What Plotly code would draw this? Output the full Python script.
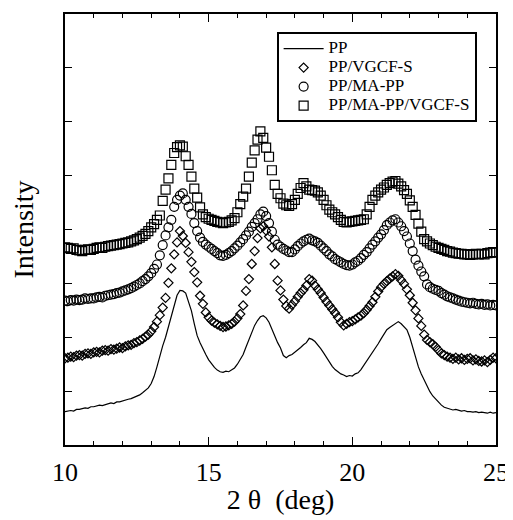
import plotly.graph_objects as go

# values sampled every 0.1 deg from 10.0 to 25.0
pp = [0.62,0.63,0.64,0.63,0.66,0.66,0.67,0.69,0.68,0.71,
      0.71,0.72,0.74,0.73,0.75,0.76,0.78,0.77,0.80,0.80,
      0.82,0.83,0.85,0.86,0.88,0.90,0.93,0.97,1.01,1.06,
      1.14,1.27,1.45,1.67,1.84,2.00,2.20,2.42,2.62,2.78,
      2.87,2.86,2.82,2.67,2.49,2.25,2.03,1.90,1.78,1.68,
      1.58,1.50,1.44,1.39,1.36,1.35,1.37,1.36,1.40,1.43,
      1.50,1.59,1.68,1.82,1.96,2.10,2.22,2.31,2.38,2.40,
      2.36,2.28,2.15,2.02,1.90,1.80,1.66,1.62,1.66,1.68,
      1.72,1.76,1.81,1.86,1.90,1.98,1.96,1.92,1.86,1.79,
      1.71,1.62,1.54,1.46,1.40,1.36,1.32,1.30,1.27,1.29,
      1.28,1.32,1.34,1.40,1.48,1.55,1.62,1.70,1.80,1.88,
      1.97,2.06,2.14,2.18,2.22,2.26,2.29,2.25,2.20,2.14,
      2.00,1.82,1.62,1.45,1.32,1.20,1.08,0.99,0.91,0.85,
      0.79,0.74,0.70,0.68,0.67,0.65,0.66,0.64,0.63,0.64,
      0.62,0.62,0.61,0.62,0.60,0.61,0.60,0.59,0.61,0.59,
      0.60]

pp_vgcf = [1.61,1.62,1.64,1.63,1.66,1.67,1.66,1.69,1.70,1.69,
           1.72,1.73,1.72,1.75,1.76,1.75,1.78,1.77,1.79,1.81,
           1.80,1.83,1.85,1.86,1.89,1.91,1.94,1.97,2.01,2.05,
           2.11,2.19,2.29,2.41,2.55,2.73,3.01,3.28,3.54,3.76,
           3.97,3.88,3.75,3.58,3.40,3.21,3.02,2.77,2.62,2.46,
           2.37,2.31,2.27,2.24,2.21,2.19,2.20,2.22,2.25,2.29,
           2.35,2.43,2.59,2.86,3.08,3.36,3.60,3.84,4.02,4.06,
           3.98,3.87,3.67,3.36,3.05,2.87,2.70,2.58,2.53,2.60,
           2.67,2.75,2.82,2.88,2.96,3.08,3.05,2.96,2.89,2.82,
           2.74,2.66,2.59,2.52,2.45,2.37,2.28,2.22,2.25,2.28,
           2.30,2.33,2.37,2.40,2.45,2.51,2.58,2.65,2.75,2.85,
           2.93,2.99,3.04,3.09,3.13,3.17,3.14,3.06,2.99,2.89,
           2.78,2.64,2.50,2.35,2.21,2.05,1.95,1.91,1.87,1.82,
           1.76,1.70,1.67,1.64,1.62,1.60,1.62,1.59,1.61,1.58,
           1.60,1.61,1.57,1.59,1.56,1.55,1.57,1.54,1.58,1.62,
           1.61]

pp_mapp = [2.68,2.67,2.69,2.68,2.70,2.69,2.70,2.72,2.71,2.72,
           2.72,2.74,2.75,2.74,2.77,2.78,2.79,2.80,2.82,2.83,
           2.85,2.87,2.89,2.91,2.94,2.97,3.00,3.04,3.08,3.13,
           3.19,3.27,3.35,3.52,3.71,3.89,4.04,4.18,4.42,4.55,
           4.63,4.67,4.55,4.42,4.29,4.12,3.97,3.85,3.77,3.72,
           3.68,3.64,3.60,3.56,3.52,3.51,3.53,3.56,3.60,3.65,
           3.70,3.76,3.82,3.89,3.96,4.05,4.12,4.19,4.28,4.33,
           4.25,4.12,3.96,3.81,3.72,3.68,3.64,3.61,3.58,3.58,
           3.63,3.69,3.74,3.78,3.81,3.83,3.80,3.78,3.75,3.70,
           3.65,3.60,3.54,3.50,3.45,3.42,3.39,3.36,3.34,3.33,
           3.35,3.39,3.42,3.47,3.53,3.58,3.65,3.72,3.78,3.85,
           3.91,3.99,4.08,4.13,4.17,4.19,4.13,4.06,3.97,3.87,
           3.74,3.60,3.44,3.33,3.22,3.13,2.98,2.93,2.90,2.88,
           2.86,2.82,2.79,2.76,2.74,2.72,2.70,2.68,2.66,2.65,
           2.64,2.63,2.64,2.62,2.61,2.62,2.60,2.61,2.59,2.60,
           2.59]

pp_mapp_vgcf = [3.67,3.66,3.64,3.65,3.62,3.61,3.60,3.62,3.63,3.62,
                3.64,3.66,3.67,3.66,3.68,3.69,3.70,3.71,3.72,3.73,
                3.74,3.75,3.76,3.78,3.80,3.82,3.85,3.88,3.92,3.97,
                4.04,4.10,4.18,4.26,4.53,4.74,4.95,5.20,5.42,5.53,
                5.56,5.54,5.36,5.20,4.98,4.76,4.59,4.41,4.28,4.23,
                4.20,4.18,4.16,4.14,4.13,4.12,4.13,4.14,4.17,4.21,
                4.32,4.47,4.61,4.76,4.98,5.24,5.47,5.67,5.82,5.70,
                5.52,5.35,5.10,4.83,4.66,4.58,4.48,4.45,4.44,4.47,
                4.55,4.66,4.77,4.86,4.80,4.74,4.73,4.72,4.69,4.63,
                4.55,4.45,4.37,4.32,4.28,4.23,4.18,4.14,4.13,4.14,
                4.15,4.16,4.17,4.18,4.19,4.28,4.42,4.55,4.63,4.69,
                4.74,4.78,4.83,4.86,4.89,4.90,4.85,4.80,4.73,4.66,
                4.54,4.42,4.27,4.11,3.96,3.82,3.78,3.74,3.71,3.68,
                3.66,3.64,3.62,3.60,3.59,3.57,3.56,3.55,3.55,3.54,
                3.54,3.53,3.54,3.55,3.54,3.55,3.54,3.56,3.57,3.58,
                3.57]

names = ["PP", "PP/VGCF-S", "PP/MA-PP", "PP/MA-PP/VGCF-S"]
x_start, x_step = 10.0, 0.1


def xs(vals):
    return [round(x_start + x_step * i, 2) for i in range(len(vals))]


def legend_name(s):
    # larger visible text while keeping compact legend row spacing
    return '<span style="font-size:17px">' + s + "</span>"


fig = go.Figure()
fig.add_trace(go.Scatter(x=xs(pp), y=pp, mode="lines", name=legend_name(names[0]),
                         line=dict(color="black", width=1.2)))
fig.add_trace(go.Scatter(x=xs(pp_vgcf), y=pp_vgcf, mode="markers", name=legend_name(names[1]),
                         marker=dict(symbol="diamond-open", size=7, color="black",
                                     line=dict(width=1.2, color="black"))))
fig.add_trace(go.Scatter(x=xs(pp_mapp), y=pp_mapp, mode="markers", name=legend_name(names[2]),
                         marker=dict(symbol="circle-open", size=9, color="black",
                                     line=dict(width=1.2, color="black"))))
fig.add_trace(go.Scatter(x=xs(pp_mapp_vgcf), y=pp_mapp_vgcf, mode="markers", name=legend_name(names[3]),
                         marker=dict(symbol="square-open", size=9, color="black",
                                     line=dict(width=1.2, color="black"))))

serif = "Liberation Serif"
fig.update_layout(
    width=505, height=512,
    margin=dict(l=57, r=14, t=4, b=75),
    paper_bgcolor="white", plot_bgcolor="white",
    font=dict(family=serif, color="black", size=20),
    showlegend=True,
    legend=dict(x=0.491, y=0.958, xanchor="left", yanchor="top",
                bordercolor="black", borderwidth=2, bgcolor="white",
                font=dict(family=serif, size=12, color="black"),
                tracegroupgap=0, itemwidth=40),
)
fig.update_xaxes(range=[10, 25], dtick=5, tick0=10, ticks="inside", ticklen=8,
                 tickwidth=1, tickcolor="black", showline=True, linecolor="black",
                 linewidth=1.5, mirror="ticks", showgrid=False, zeroline=False,
                 tickfont=dict(family=serif, size=26), ticklabelstandoff=3,
                 minor=dict(dtick=1, ticks="inside", ticklen=4, tickcolor="black",
                            showgrid=False),
                 title=dict(text="2 θ\u00a0\u00a0(deg)", font=dict(family=serif, size=28),
                            standoff=3))
fig.update_yaxes(range=[0, 8], dtick=1, tick0=0, ticks="inside", ticklen=7,
                 tickwidth=1, tickcolor="black", showline=True, linecolor="black",
                 linewidth=1.5, mirror="ticks", showgrid=False, zeroline=False,
                 showticklabels=False,
                 title=dict(text="Intensity", font=dict(family=serif, size=28),
                            standoff=26))

fig.write_html("out.html")
